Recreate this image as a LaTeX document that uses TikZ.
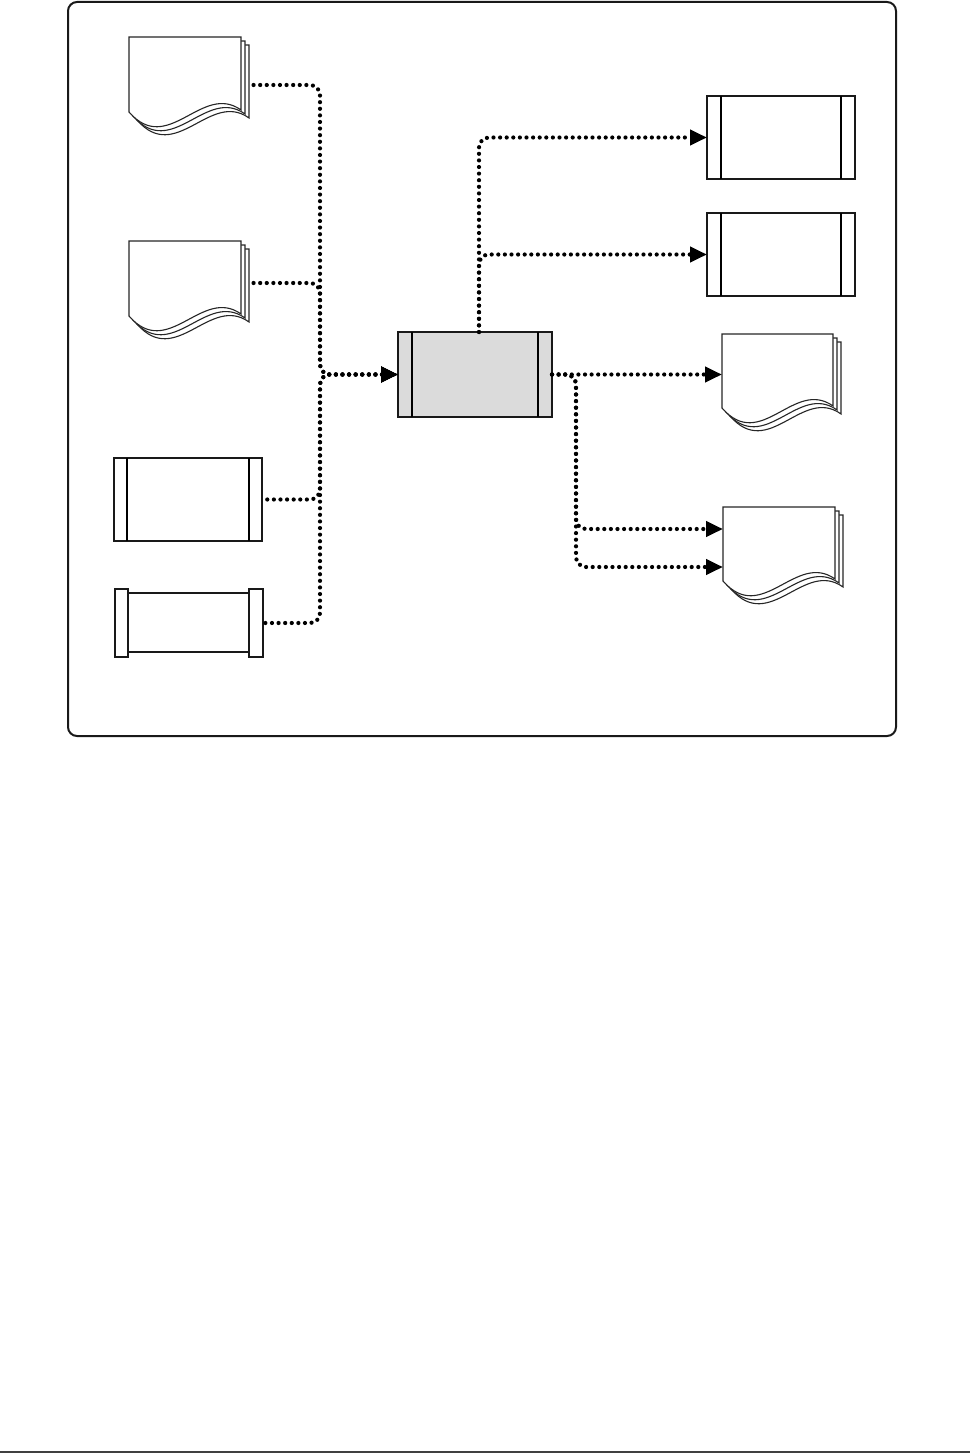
\documentclass[tikz,border=0pt]{standalone}
\usetikzlibrary{arrows.meta}
\newcommand\multidoc[1]{%
  \foreach \k in {8,4,0} {%
    \draw[docline] ([shift={(\k,\k)}]#1.north west) -- ([shift={(\k,\k)}]#1.south west)
      .. controls +(39,45) and +(-39,-28) .. ([shift={(\k,\k-2)}]#1.south east)
      -- ([shift={(\k,\k)}]#1.north east) -- cycle;
  }%
}
\newcommand\procbars[2]{%
  \draw[line width=1.3] ([xshift=#2]#1.north west) -- ([xshift=#2]#1.south west);
  \draw[line width=1.3] ([xshift=-#2]#1.north east) -- ([xshift=-#2]#1.south east);
}
\begin{document}
\begin{tikzpicture}[x=1pt,y=-1pt,
  docnode/.style={rectangle, inner sep=0, outer sep=0, minimum width=112pt, minimum height=75pt, anchor=north west},
  docline/.style={draw=black!85, line width=1.1, fill=white},
  procbox/.style={rectangle, draw=black!90, line width=1.8, inner sep=0, outer sep=0, minimum width=148pt, minimum height=83pt, anchor=north west},
  flow/.style={draw=black, line width=4.2, dash pattern=on 0pt off 6.6pt, line cap=round, rounded corners=10pt},
  arr/.style={-{Triangle[length=17pt,width=15pt]}},
  arrs/.style={{Triangle[length=17pt,width=15pt]}-}
]
\useasboundingbox (0,0) rectangle (970,1453);
% frame
\draw[line width=2, draw=black!90, rounded corners=9] (68,2) rectangle (896,736);
\draw[line width=1.3, draw=black!75] (0,1452) -- (970,1452);

% left documents
\node[docnode] (d1) at (129,37) {};
\multidoc{d1}
\node[docnode] (d2) at (129,241) {};
\multidoc{d2}

% left process box
\node[procbox] (r3) at (114,458) {};
\procbars{r3}{13}

% left stored box with end caps
\node[rectangle, inner sep=0, outer sep=0, minimum width=148pt, minimum height=68pt, anchor=north west] (r4) at (115,589) {};
\draw[line width=1.6, draw=black!90] ([shift={(13,4)}]r4.north west) rectangle ([shift={(-14,-5)}]r4.south east);
\draw[line width=1.6, draw=black!90, fill=white] (r4.north west) rectangle ([xshift=13]r4.south west);
\draw[line width=1.6, draw=black!90, fill=white] ([xshift=-14]r4.north east) rectangle (r4.south east);

% central
\node[rectangle, draw=black!90, fill=black!14, line width=1.6, inner sep=0, outer sep=0, minimum width=154pt, minimum height=85pt, anchor=north west] (c) at (398,332) {};
\draw[line width=1.3] ([xshift=14]c.north west) -- ([xshift=14]c.south west);
\draw[line width=2.2] ([xshift=-14]c.north east) -- ([xshift=-14]c.south east);

% right boxes
\node[procbox] (o1) at (707,96) {};
\procbars{o1}{14}
\node[procbox] (o2) at (707,213) {};
\procbars{o2}{14}

% right documents
\node[docnode, minimum width=111pt, minimum height=74pt] (dd1) at (722,334) {};
\multidoc{dd1}
\node[docnode, minimum width=112pt, minimum height=74pt] (dd2) at (723,507) {};
\multidoc{dd2}

% coordinates
\coordinate (busL) at ([xshift=-78]c.west);
\coordinate (d1o) at ([shift={(9,48)}]d1.north east);
\coordinate (d2o) at ([shift={(9,42)}]d2.north east);
\coordinate (ctop) at ([xshift=4]c.north);
\coordinate (busR) at ([xshift=24]c.east);
\coordinate (dd1i) at (c.east -| dd1.west);
\coordinate (dd2a) at ([shift={(0,22)}]dd2.north west);
\coordinate (dd2b) at ([shift={(0,60)}]dd2.north west);

% connectors in (drawn from the target so that dots of shared parts coincide)
\draw[flow, arrs] (c.west) -- (busL) |- (d1o);
\draw[flow, arrs] (c.west) -- (busL) |- (d2o);
\draw[flow, arrs] (c.west) -- (busL) |- (r3.east);
\draw[flow, arrs] (c.west) -- (busL) |- (r4.east);

% connectors out
\draw[flow, arr] (ctop) |- (o1.west);
\draw[flow, arr] (ctop) |- (o2.west);
\draw[flow, arr] (c.east) -- (dd1i);
\draw[flow, arr] (c.east) -- (busR) |- (dd2a);
\draw[flow, arr] (c.east) -- (busR) |- (dd2b);
\end{tikzpicture}
\end{document}
